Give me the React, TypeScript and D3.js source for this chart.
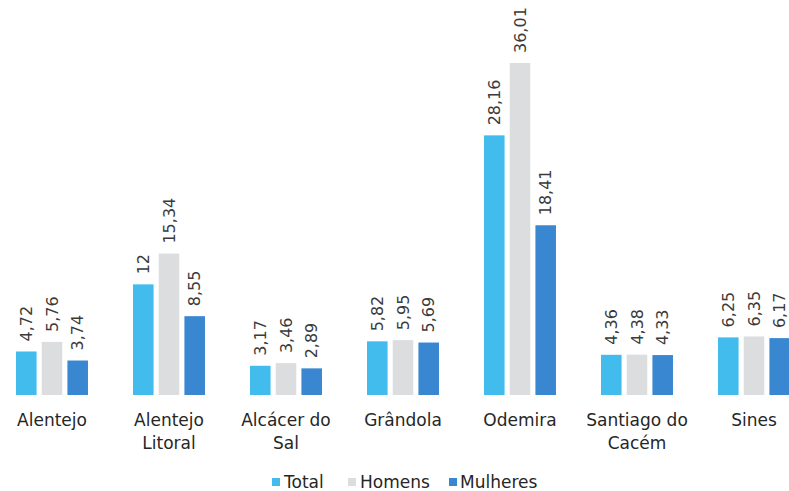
import React from "react";
import * as d3 from "d3";

const categories = ["Alentejo", "Alentejo Litoral", "Alcácer do Sal", "Grândola", "Odemira", "Santiago do Cacém", "Sines"];
const categoryLines = [["Alentejo"], ["Alentejo", "Litoral"], ["Alcácer do", "Sal"], ["Grândola"], ["Odemira"], ["Santiago do", "Cacém"], ["Sines"]];
const seriesNames = ["Total", "Homens", "Mulheres"];
const totalValues = [4.72, 12, 3.17, 5.82, 28.16, 4.36, 6.25];
const homensValues = [5.76, 15.34, 3.46, 5.95, 36.01, 4.38, 6.35];
const mulheresValues = [3.74, 8.55, 2.89, 5.69, 18.41, 4.33, 6.17];
const seriesColors = ["#41BCEC", "#DCDDDF", "#3A87D1"];

const W = 789;
const H = 491;
const FONT = "'DejaVu Sans', sans-serif";

export default function App() {
  const seriesValues = [totalValues, homensValues, mulheresValues];
  const x0 = d3.scaleBand<string>().domain(categories).range([-6.5, 812.5]).padding(0);
  const x1 = d3
    .scaleBand<string>()
    .domain(seriesNames)
    .range([0, x0.bandwidth()])
    .paddingInner(0.2)
    .paddingOuter(0.876);
  const y = d3.scaleLinear().domain([0, 40]).range([395, 395 - 40 * 9.22]);
  const fmt = (v: number) => String(v).replace(".", ",");

  const legendItems = [
    { name: "Total", sx: 272, tx: 284 },
    { name: "Homens", sx: 348, tx: 360 },
    { name: "Mulheres", sx: 449, tx: 460 },
  ];

  return (
    <svg
      width={W}
      height={H}
      style={{ position: "absolute", left: 0, top: 0, background: "#fff" }}
      fontFamily={FONT}
    >
      {categories.map((c, i) => (
        <g key={c} transform={`translate(${x0(c)},0)`}>
          {seriesNames.map((s, j) => {
            const v = seriesValues[j][i];
            const bx = x1(s)!;
            const bw = x1.bandwidth();
            const top = y(v);
            return (
              <g key={s}>
                <rect x={bx} y={top} width={bw} height={y(0) - top} fill={seriesColors[j]} />
                <text
                  transform={`translate(${bx + bw / 2},${top - 10}) rotate(-90)`}
                  dy="0.36em"
                  fontSize={16}
                  fill="#3a3a3a"
                  textAnchor="start"
                >
                  {fmt(v)}
                </text>
              </g>
            );
          })}
          {categoryLines[i].map((line, k) => (
            <text
              key={k}
              x={x0.bandwidth() / 2}
              y={426 + k * 23}
              textAnchor="middle"
              fontSize={17}
              fill="#262626"
            >
              {line}
            </text>
          ))}
        </g>
      ))}
      {legendItems.map((d, j) => (
        <g key={d.name}>
          <rect x={d.sx} y={478} width={8} height={8} fill={seriesColors[j]} />
          <text x={d.tx} y={488} fontSize={17} fill="#262626">
            {d.name}
          </text>
        </g>
      ))}
    </svg>
  );
}
